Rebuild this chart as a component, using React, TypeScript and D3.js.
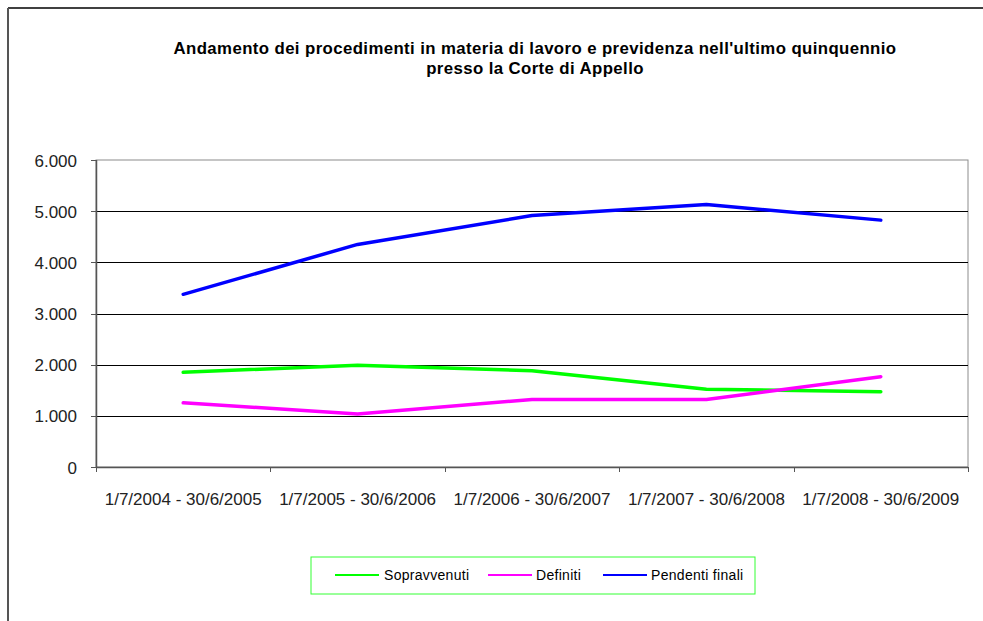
import React from "react";
import * as d3 from "d3";

const categories = [
  "1/7/2004 - 30/6/2005",
  "1/7/2005 - 30/6/2006",
  "1/7/2006 - 30/6/2007",
  "1/7/2007 - 30/6/2008",
  "1/7/2008 - 30/6/2009",
];
const sopravvenuti = [1850, 1990, 1880, 1520, 1470];
const definiti = [1255, 1035, 1320, 1320, 1765];
const pendentiFinali = [3375, 4350, 4915, 5130, 4825];
const yTicks = [0, 1000, 2000, 3000, 4000, 5000, 6000];
const titleLines = [
  "Andamento dei procedimenti in materia di lavoro e previdenza nell'ultimo quinquennio",
  "presso la Corte di Appello",
];
const seriesNames = ["Sopravvenuti", "Definiti", "Pendenti finali"];
const seriesColors = ["#00ff00", "#ff00ff", "#0000ff"];

export default function App() {
  const W = 983, H = 621;
  const left = 96, right = 968, top = 160, bottom = 467;
  const x = d3.scaleBand<string>().domain(categories).range([left, right]);
  const y = d3.scaleLinear().domain([0, 6000]).range([bottom, top]);
  const fmt = (v: number) => (v === 0 ? "0" : d3.format(",")(v).replace(/,/g, "."));
  const line = d3
    .line<number>()
    .x((_, i) => (x(categories[i]) as number) + x.bandwidth() / 2)
    .y((d) => y(d));
  const series = [sopravvenuti, definiti, pendentiFinali];
  const font = "'Liberation Sans', Arial, sans-serif";
  const tickEdges = [...categories.map((c) => x(c) as number), right];
  const legendItems = [
    { lx: 335, tx: 384 },
    { lx: 488, tx: 536 },
    { lx: 603, tx: 651 },
  ];
  return (
    <svg
      width={W}
      height={H}
      style={{ position: "absolute", left: 0, top: 0, background: "#fff" }}
      fontFamily={font}
    >
      {/* outer frame */}
      <line x1={8} y1={8} x2={W} y2={8} stroke="#000" strokeWidth={1.5} />
      <line x1={8} y1={8} x2={8} y2={H} stroke="#555" strokeWidth={2} />

      {/* title */}
      {titleLines.map((t, i) => (
        <text key={i} x={535} y={54 + i * 19.5} textAnchor="middle" fontSize={16.8} fontWeight="bold" letterSpacing={0.4} fill="#000">
          {t}
        </text>
      ))}

      {/* plot frame */}
      <rect x={left} y={top} width={right - left} height={bottom - top} fill="#fff" stroke="#8c8c8c" strokeWidth={1} />

      {/* gridlines */}
      {yTicks.slice(1, -1).map((t) => (
        <line key={t} x1={left} x2={right} y1={Math.round(y(t)) + 0.5} y2={Math.round(y(t)) + 0.5} stroke="#000" strokeWidth={1} />
      ))}

      {/* y axis */}
      <line x1={left + 0.5} y1={top} x2={left + 0.5} y2={bottom} stroke="#555" strokeWidth={1.5} />
      {yTicks.map((t) => (
        <g key={t}>
          <line x1={left - 5} x2={left} y1={Math.round(y(t)) + 0.5} y2={Math.round(y(t)) + 0.5} stroke="#555" />
          <text x={77} y={y(t) + 6.5} textAnchor="end" fontSize={17} fill="#222">
            {fmt(t)}
          </text>
        </g>
      ))}

      {/* x axis */}
      <line x1={left} y1={bottom + 0.5} x2={right} y2={bottom + 0.5} stroke="#555" strokeWidth={1.5} />
      {tickEdges.map((e, i) => (
        <line key={i} x1={Math.round(e) + 0.5} x2={Math.round(e) + 0.5} y1={bottom} y2={bottom + 5} stroke="#555" />
      ))}
      {categories.map((c) => (
        <text key={c} x={(x(c) as number) + x.bandwidth() / 2} y={505} textAnchor="middle" fontSize={17} fill="#222">
          {c}
        </text>
      ))}

      {/* series */}
      {series.map((s, i) => (
        <path key={i} d={line(s) || ""} fill="none" stroke={seriesColors[i]} strokeWidth={3.5} strokeLinejoin="round" strokeLinecap="round" />
      ))}

      {/* legend */}
      <rect x={311} y={557} width={444} height={37} fill="#fff" stroke="#33ff33" strokeWidth={1} />
      {seriesNames.map((n, i) => (
        <g key={n}>
          <line x1={legendItems[i].lx} x2={legendItems[i].lx + 44} y1={575} y2={575} stroke={seriesColors[i]} strokeWidth={2} />
          <text x={legendItems[i].tx} y={580} fontSize={14} fill="#000" letterSpacing={0.3}>
            {n}
          </text>
        </g>
      ))}
    </svg>
  );
}
